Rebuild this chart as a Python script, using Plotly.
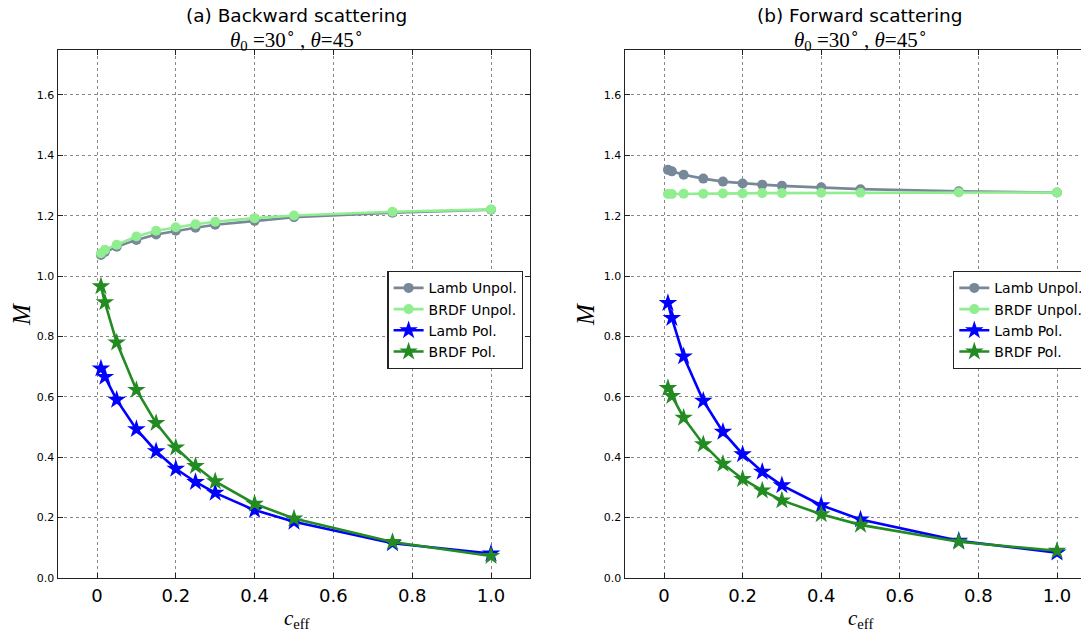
import plotly.graph_objects as go

# effective concentration values shared by every curve
c_eff = [0.01, 0.02, 0.05, 0.1, 0.15, 0.2, 0.25, 0.3, 0.4, 0.5, 0.75, 1.0]

# (a) backward scattering
back_lamb_unpol = [1.070, 1.080, 1.097, 1.120, 1.138, 1.150, 1.160, 1.170, 1.183, 1.195, 1.210, 1.220]
back_brdf_unpol = [1.076, 1.087, 1.104, 1.131, 1.150, 1.162, 1.172, 1.180, 1.192, 1.201, 1.213, 1.221]
back_lamb_pol = [0.694, 0.666, 0.590, 0.493, 0.420, 0.362, 0.318, 0.282, 0.225, 0.186, 0.115, 0.081]
back_brdf_pol = [0.966, 0.913, 0.780, 0.623, 0.513, 0.432, 0.371, 0.320, 0.246, 0.197, 0.119, 0.073]

# (b) forward scattering
fwd_lamb_unpol = [1.352, 1.347, 1.336, 1.323, 1.313, 1.307, 1.303, 1.299, 1.294, 1.288, 1.281, 1.277]
fwd_brdf_unpol = [1.272, 1.272, 1.273, 1.273, 1.274, 1.274, 1.275, 1.275, 1.276, 1.276, 1.277, 1.277]
fwd_lamb_pol = [0.911, 0.861, 0.734, 0.587, 0.484, 0.410, 0.352, 0.307, 0.241, 0.194, 0.123, 0.084]
fwd_brdf_pol = [0.629, 0.603, 0.531, 0.443, 0.378, 0.328, 0.290, 0.257, 0.211, 0.176, 0.120, 0.090]

x_ticks = [0, 0.2, 0.4, 0.6, 0.8, 1.0]
x_labels = ["0", "0.2", "0.4", "0.6", "0.8", "1.0"]
y_ticks = [0.0, 0.2, 0.4, 0.6, 0.8, 1.0, 1.2, 1.4, 1.6]
y_labels = ["0.0", "0.2", "0.4", "0.6", "0.8", "1.0", "1.2", "1.4", "1.6"]

series_names = ["Lamb Unpol.", "BRDF Unpol.", "Lamb Pol.", "BRDF Pol."]
colors = ["#778899", "#90EE90", "#0000FF", "#228B22"]
symbols = ["circle", "circle", "star", "star"]
msizes = [10, 10, 14, 14]

SANS = "DejaVu Sans"
SERIF = "Liberation Serif"

# page body has an 8px margin, so the figure is 8px smaller than the window
W, H = 1081, 622
OFF = 8


def px(xp):
    return (xp - OFF) / W


def py(yp):
    return 1 - (yp - OFF) / H


fig = go.Figure()

panels = [
    ("x", "y", "legend", [back_lamb_unpol, back_brdf_unpol, back_lamb_pol, back_brdf_pol]),
    ("x2", "y2", "legend2", [fwd_lamb_unpol, fwd_brdf_unpol, fwd_lamb_pol, fwd_brdf_pol]),
]
for xa, ya, leg, data in panels:
    for name, vals, col, sym, ms in zip(series_names, data, colors, symbols, msizes):
        fig.add_trace(go.Scatter(
            x=c_eff, y=vals, name=name, mode="lines+markers",
            xaxis=xa, yaxis=ya, legend=leg,
            line=dict(color=col, width=2.6),
            marker=dict(color=col, symbol=sym, size=ms, line=dict(width=0)),
        ))

axis_common = dict(
    showline=True, linecolor="#222", linewidth=1.3,
    ticks="inside", ticklen=5, tickcolor="#222",
    showgrid=True, gridcolor="#888", griddash="dot", gridwidth=1,
    zeroline=False, automargin=False,
)
xfont = dict(family=SANS, size=18, color="black")
yfont = dict(family=SANS, size=11, color="black")
legend_style = dict(xanchor="left", yanchor="top", bgcolor="white",
                    bordercolor="#222", borderwidth=1.3,
                    font=dict(family=SANS, size=14, color="black"),
                    tracegroupgap=0)
y_dom = [py(578), py(49.7)]

fig.update_layout(
    width=W, height=H,
    margin=dict(l=0, r=0, t=0, b=0),
    paper_bgcolor="white", plot_bgcolor="white",
    showlegend=True,
    xaxis=dict(axis_common, domain=[px(57.6), px(530.4)], range=[-0.1, 1.1],
               tickvals=x_ticks, ticktext=x_labels, mirror="allticks",
               tickfont=xfont, ticklabelstandoff=1, anchor="y"),
    yaxis=dict(axis_common, domain=y_dom, range=[0, 1.75],
               tickvals=y_ticks, ticktext=y_labels, mirror="allticks",
               tickfont=yfont, anchor="x"),
    xaxis2=dict(axis_common, domain=[px(624.7), 1.0], range=[-0.1, 1.0814],
                tickvals=x_ticks, ticktext=x_labels, mirror="allticks",
                tickfont=xfont, ticklabelstandoff=1, anchor="y2"),
    yaxis2=dict(axis_common, domain=y_dom, range=[0, 1.75],
                tickvals=y_ticks, ticktext=y_labels, mirror=False,
                tickfont=yfont, anchor="x2"),
    legend=dict(legend_style, x=px(387.3), y=py(271)),
    legend2=dict(legend_style, x=px(953), y=py(271)),
)

titles = [
    (296, "(a) Backward scattering"),
    (860, "(b) Forward scattering"),
]
subtitle = "<i>θ</i><sub>0</sub> =30<sup>∘</sup> , <i>θ</i>=45<sup>∘</sup>"
for cx, text in titles:
    fig.add_annotation(x=px(cx), y=py(16), xref="paper", yref="paper",
                       text=text, showarrow=False, xanchor="center", yanchor="middle",
                       font=dict(family=SANS, size=18.5, color="black"))
    fig.add_annotation(x=px(cx), y=py(39), xref="paper", yref="paper",
                       text=subtitle, showarrow=False, xanchor="center", yanchor="middle",
                       font=dict(family=SERIF, size=21, color="black"))
    fig.add_annotation(x=px(cx), y=py(619), xref="paper", yref="paper",
                       text="<i>c</i><sub>eff</sub>", showarrow=False,
                       xanchor="center", yanchor="middle",
                       font=dict(family=SERIF, size=21, color="black"))

for mx in [21, 585]:
    fig.add_annotation(x=px(mx), y=py(315), xref="paper", yref="paper",
                       text="<i>M</i>", showarrow=False, textangle=-90,
                       xanchor="center", yanchor="middle",
                       font=dict(family=SERIF, size=25, color="black"))

fig.write_html("out.html")
